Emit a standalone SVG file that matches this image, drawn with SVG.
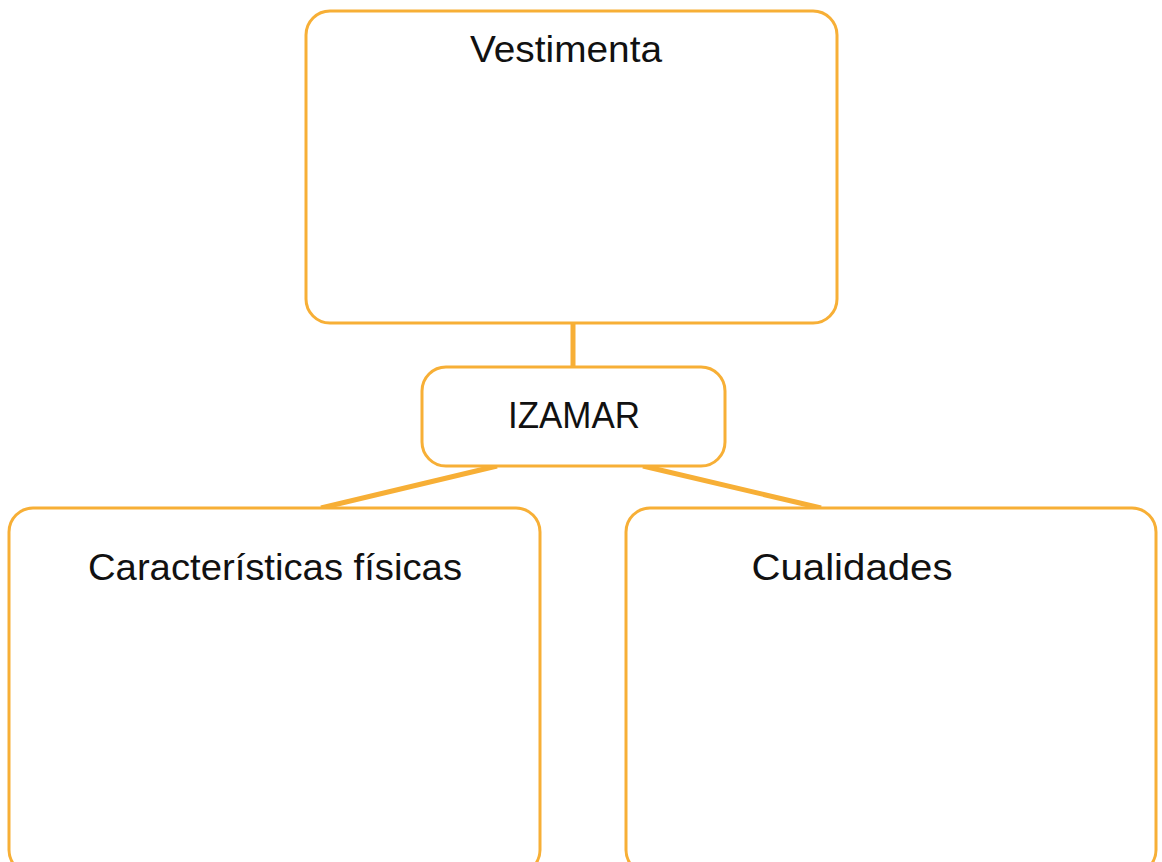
<svg xmlns="http://www.w3.org/2000/svg" width="1162" height="862" viewBox="0 0 1162 862">
<style>
.box{fill:#fff;stroke:#F7AF36;stroke-width:3}
.conn{stroke:#F7AF36;stroke-width:5;fill:none}
.lbl{font-family:"Liberation Sans","DejaVu Sans",sans-serif;font-size:36px;fill:#111;text-anchor:middle}
</style>
<rect width="1162" height="862" fill="#fff"/>
<g id="connectors">
<line class="conn" x1="573" y1="323" x2="573" y2="367"/>
<line class="conn" x1="497" y1="466" x2="321" y2="508"/>
<line class="conn" x1="643" y1="466" x2="821" y2="508"/>
</g>
<g id="vestimenta">
<rect class="box" x="306" y="11" width="531" height="312" rx="24"/>
<text class="lbl" x="566" y="62" textLength="192" lengthAdjust="spacingAndGlyphs">Vestimenta</text>
</g>
<g id="izamar">
<rect class="box" x="422" y="367" width="303" height="99" rx="24"/>
<text class="lbl" x="574" y="428" textLength="132" lengthAdjust="spacingAndGlyphs">IZAMAR</text>
</g>
<g id="caracteristicas">
<rect class="box" x="9" y="508" width="531" height="366" rx="24"/>
<text class="lbl" x="275" y="580" textLength="374" lengthAdjust="spacingAndGlyphs">Características físicas</text>
</g>
<g id="cualidades">
<rect class="box" x="626" y="508" width="530" height="366" rx="24"/>
<text class="lbl" x="852" y="580" textLength="201" lengthAdjust="spacingAndGlyphs">Cualidades</text>
</g>
</svg>
